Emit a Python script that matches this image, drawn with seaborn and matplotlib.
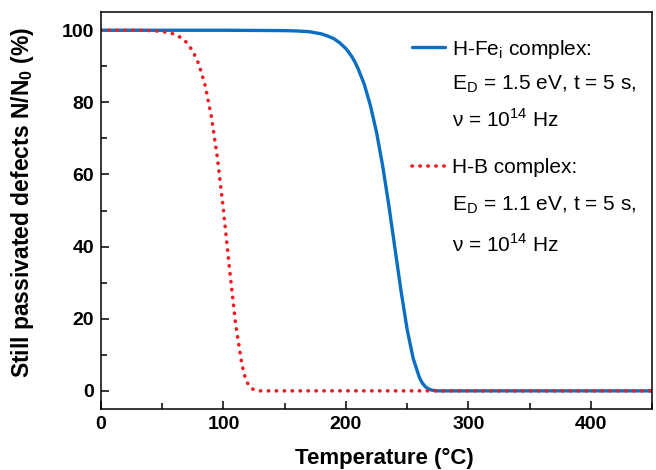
import pandas as pd
import matplotlib
matplotlib.use("Agg")
import matplotlib.pyplot as plt
from matplotlib.lines import Line2D
from matplotlib.ticker import MultipleLocator
import seaborn as sns

# values
temp_fe = [0, 100, 150, 160, 170, 180, 185, 190, 195, 200, 202.5, 205, 207.5,
           210, 215, 220, 225, 230, 235, 240, 245, 250, 255, 260, 262.5, 265,
           267.5, 270, 272.5, 275, 280, 450]
frac_fe = [100, 100, 99.9, 99.8, 99.6, 99.0, 98.4, 97.7, 96.5, 94.9, 93.8, 92.6,
           91.1, 89.3, 85.0, 79.1, 71.7, 62.4, 51.5, 39.6, 27.7, 17.0, 8.9, 3.7,
           2.1, 1.1, 0.55, 0.2, 0.1, 0.0, 0.0, 0.0]

temp_b = [0, 30, 40, 45, 50, 55, 60, 65, 70, 75, 80, 85, 90, 95, 100, 105, 110,
          115, 117.5, 120, 122.5, 125, 130, 450]
frac_b = [100, 100, 99.9, 99.8, 99.6, 99.4, 98.9, 98.0, 96.6, 94.2, 90.5, 84.7,
          76.3, 64.7, 50.0, 33.6, 18.3, 7.4, 4.0, 1.9, 0.8, 0.3, 0.0, 0.0]

labels_fe = ["H-Fe$_\\mathregular{i}$ complex:",
             "E$_\\mathregular{D}$ = 1.5 eV, t = 5 s,",
             "\u03bd = 10$^\\mathregular{14}$ Hz"]
labels_b = ["H-B complex:",
            "E$_\\mathregular{D}$ = 1.1 eV, t = 5 s,",
            "\u03bd = 10$^\\mathregular{14}$ Hz"]

df_fe = pd.DataFrame({"T": temp_fe, "N": frac_fe})
df_b = pd.DataFrame({"T": temp_b, "N": frac_b})

sns.set_style("ticks", {"axes.edgecolor": "black", "xtick.color": "black",
                        "ytick.color": "black", "text.color": "black",
                        "axes.labelcolor": "black"})
plt.rcParams["font.family"] = ["Liberation Sans", "DejaVu Sans"]
plt.rcParams["mathtext.fontset"] = "custom"
plt.rcParams["mathtext.rm"] = "Liberation Sans"
plt.rcParams["axes.linewidth"] = 1.1

blue = "#0a6fc2"
red = "#ee1c25"
dots = (0, (0.1, 2.1))

fig = plt.figure(figsize=(6.56, 4.70), dpi=100)
ax = fig.add_axes([0.154, 0.130, 0.840, 0.844])

sns.lineplot(data=df_fe, x="T", y="N", ax=ax, color=blue, lw=2.4)
sns.lineplot(data=df_b, x="T", y="N", ax=ax, color=red, lw=2.6,
             linestyle=dots, dash_capstyle="round")

ax.set_xlim(0, 450)
ax.set_ylim(-5, 105)
ax.xaxis.set_major_locator(MultipleLocator(100))
ax.xaxis.set_minor_locator(MultipleLocator(50))
ax.yaxis.set_major_locator(MultipleLocator(20))
ax.yaxis.set_minor_locator(MultipleLocator(10))
ax.tick_params(which="both", direction="in", width=1.1, labelsize=14, pad=5)
ax.tick_params(which="major", length=6)
ax.tick_params(which="minor", length=4)
for lab in ax.get_xticklabels() + ax.get_yticklabels():
    lab.set_fontweight("bold")
for s in ax.spines.values():
    s.set_visible(True)

ax.set_xlabel("Temperature (\u00b0C)", fontsize=16, fontweight="bold")
ax.xaxis.set_label_coords(0.515, -0.098)
ax.set_ylabel("Still passivated defects N/N$_\\mathregular{0}$ (%)",
              fontsize=16.5, fontweight="bold")
ax.yaxis.set_label_coords(-0.118, 0.522)

blank = Line2D([], [], color="none")
h_fe = Line2D([], [], color=blue, lw=2.4)
h_b = Line2D([], [], color=red, lw=2.6, linestyle=dots, dash_capstyle="round")

leg1 = ax.legend([h_fe, blank, blank], labels_fe, loc="upper left",
                 bbox_to_anchor=(0.564, 0.936), frameon=False, fontsize=15,
                 borderpad=0, borderaxespad=0, handlelength=1.6,
                 handletextpad=0.35, labelspacing=0.63)
ax.add_artist(leg1)
ax.legend([h_b, blank, blank], labels_b, loc="upper left",
          bbox_to_anchor=(0.564, 0.633), frameon=False, fontsize=15,
          borderpad=0, borderaxespad=0, handlelength=1.6,
          handletextpad=0.35, labelspacing=0.83)

fig.savefig("out.png", dpi=100)
